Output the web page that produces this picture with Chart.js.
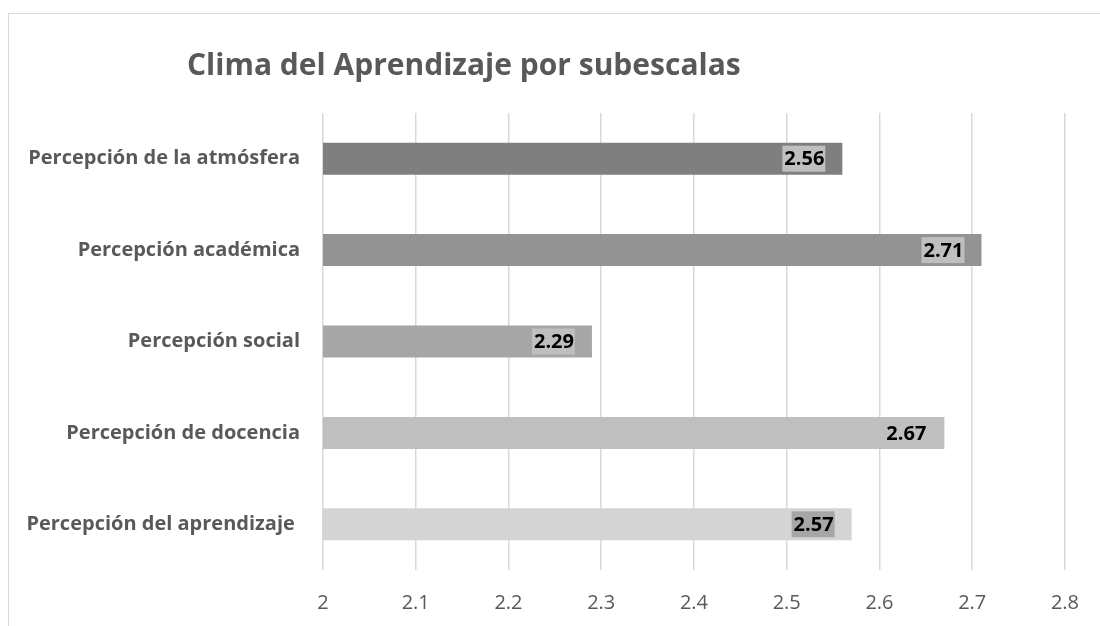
<!DOCTYPE html>
<html>
<head>
<meta charset="utf-8">
<script src="https://cdn.jsdelivr.net/npm/chart.js@4/dist/chart.umd.min.js"></script>
<style>
    html, body { margin: 0; padding: 0; background: #fff; overflow: hidden; }
    #frame { position: absolute; left: 8px; top: 13px; width: 1200px; height: 700px; border: 1px solid #d9d9d9; }
    #chart { position: absolute; left: 0; top: 0; }
</style>
</head>
<body>
<div id="frame"></div>
<canvas id="chart" width="1100" height="626"></canvas>
<script>
// Data
const title = "Clima del Aprendizaje por subescalas";
const categories = [
    "Percepción de la atmósfera",
    "Percepción académica",
    "Percepción social",
    "Percepción de docencia",
    "Percepción del aprendizaje "
];
const values = [2.56, 2.71, 2.29, 2.67, 2.57];
const xTicks = [2, 2.1, 2.2, 2.3, 2.4, 2.5, 2.6, 2.7, 2.8];

// Styles
const barColors = ["#7f7f7f", "#939393", "#a6a6a6", "#bfbfbf", "#d4d4d4"];
const labelBoxColors = ["#bfbfbf", "#bfbfbf", "#bfbfbf", "#bfbfbf", "#a6a6a6"];
const FONT = '"Open Sans", "DejaVu Sans", sans-serif';
const TEXT_GRAY = "#595959";

// Title drawn left of centre like the original
const titlePlugin = {
    id: "sideTitle",
    afterDraw(chart) {
        const ctx = chart.ctx;
        ctx.save();
        ctx.font = "bold 30px " + FONT;
        ctx.fillStyle = TEXT_GRAY;
        ctx.textAlign = "left";
        ctx.textBaseline = "alphabetic";
        ctx.fillText(title, 187, 75);
        ctx.restore();
    }
};

// Value labels at the inner end of each bar, with a small box behind
const valueLabels = {
    id: "valueLabels",
    afterDatasetsDraw(chart) {
        const ctx = chart.ctx;
        const meta = chart.getDatasetMeta(0);
        ctx.save();
        ctx.font = "bold 20px " + FONT;
        ctx.textBaseline = "middle";
        ctx.textAlign = "right";
        meta.data.forEach((bar, i) => {
            const text = values[i].toFixed(2);
            const w = ctx.measureText(text).width;
            const right = bar.x - 18;
            ctx.fillStyle = labelBoxColors[i];
            ctx.fillRect(right - w - 2, bar.y - 13, w + 3, 26);
            ctx.fillStyle = "#000";
            ctx.fillText(text, right, bar.y + 1);
        });
        ctx.restore();
    }
};

new Chart(document.getElementById("chart"), {
    type: "bar",
    data: {
        labels: categories,
        datasets: [{
            data: values,
            backgroundColor: barColors,
            borderWidth: 0,
            barPercentage: 0.35,
            categoryPercentage: 1
        }]
    },
    options: {
        indexAxis: "y",
        responsive: false,
        animation: false,
        layout: { padding: { left: 10, right: 31, top: 113, bottom: 10 } },
        plugins: {
            legend: { display: false },
            tooltip: { enabled: false },
            title: { display: false }
        },
        scales: {
            x: {
                min: xTicks[0],
                max: xTicks[xTicks.length - 1],
                afterBuildTicks(scale) {
                    scale.ticks = xTicks.map(v => ({ value: v }));
                },
                afterFit(scale) { scale.height = 46; },
                grid: { color: "#d9d9d9", lineWidth: 1.5, drawTicks: false },
                border: { display: false },
                ticks: {
                    padding: 21,
                    color: TEXT_GRAY,
                    font: { family: FONT, size: 20 },
                    callback: v => String(Number(v.toFixed(1)))
                }
            },
            y: {
                afterFit(scale) { scale.width = 313; },
                grid: { display: false, drawTicks: false },
                border: { display: false },
                ticks: {
                    padding: 23,
                    color: TEXT_GRAY,
                    font: { family: FONT, size: 20, weight: "bold" }
                }
            }
        }
    },
    plugins: [titlePlugin, valueLabels]
});
</script>
</body>
</html>
